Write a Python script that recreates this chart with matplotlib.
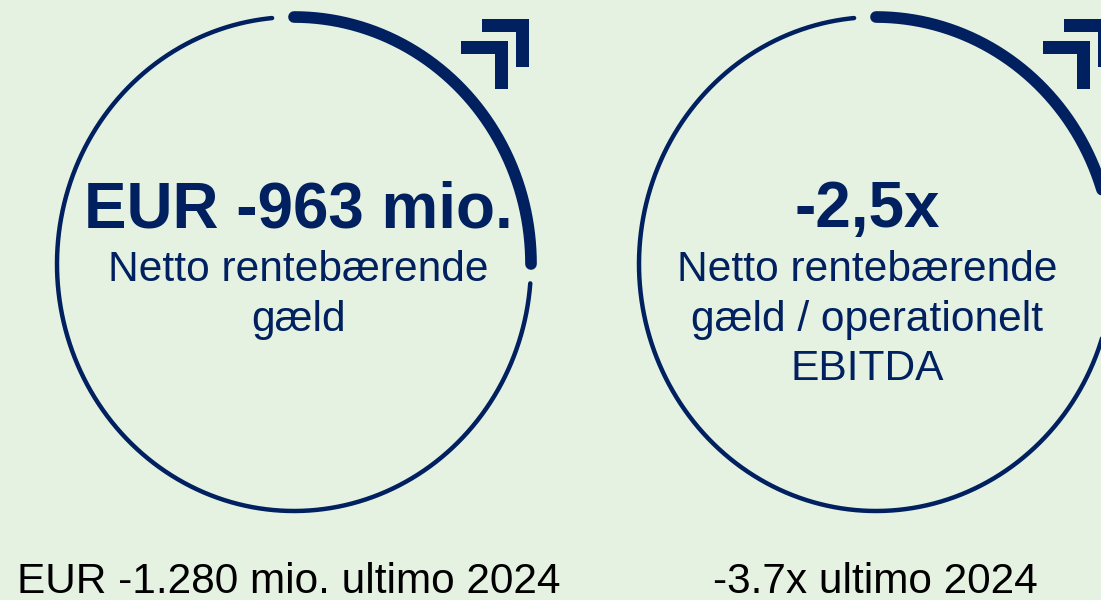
import numpy as np
import matplotlib
matplotlib.use('Agg')
import matplotlib.pyplot as plt
from matplotlib.patches import Polygon

plt.rcParams['font.family'] = ['Liberation Sans', 'DejaVu Sans']

BG = '#E5F1E1'
NAVY = '#00205F'

headlines = ['EUR -963 mio.', '-2,5x']
captions = ['Netto rentebærende\ngæld', 'Netto rentebærende\ngæld / operationelt\nEBITDA']
footers = ['EUR -1.280 mio. ultimo 2024', '-3.7x ultimo 2024']
# degrees, counted from the top, clockwise
thick_span = [0, 90]
thin_span = [94.5, 354.7]

centers_x = [294, 876]
text_x = [298.5, 867]
footer_x = [289, 875.5]
center_y = 264
radius_x = 237
radius_y = 247


def arc(cx, span, lw):
    t = np.radians(np.linspace(span[0], span[1], 300))
    ax.plot(cx + radius_x * np.sin(t), center_y - radius_y * np.cos(t), color=NAVY, lw=lw,
            solid_capstyle='round')


def chevron(x, y):
    # corner shape, x/y = top left of the horizontal arm
    pts = [(x, y), (x + 47, y), (x + 47, y + 48), (x + 34, y + 48), (x + 34, y + 13), (x, y + 13)]
    ax.add_patch(Polygon(pts, closed=True, fc=NAVY, ec='none', zorder=3))


fig = plt.figure(figsize=(11.01, 6), dpi=100, facecolor=BG)
ax = fig.add_axes([0, 0, 1, 1])
ax.set_xlim(0, 1101)
ax.set_ylim(600, 0)
ax.axis('off')

for i in range(2):
    cx = centers_x[i]
    arc(cx, thin_span, 3.2)
    arc(cx, thick_span, 8.4)
    chevron(cx + 188, 19)
    chevron(cx + 167, 41)
    ax.text(text_x[i], 227, headlines[i], color=NAVY, fontsize=45.9, fontweight='bold',
            ha='center', va='baseline', zorder=4)
    y = 281
    for line in captions[i].split('\n'):
        ax.text(text_x[i], y, line, color=NAVY, fontsize=30.6, ha='center', va='baseline')
        y += 49.5
    # reference baseline is ~596, kept a bit higher so the text box stays inside the figure
    ax.text(footer_x[i], 593, footers[i], color='#000000', fontsize=30.5, ha='center', va='baseline')

fig.savefig('out.png', dpi=100, facecolor=BG)
